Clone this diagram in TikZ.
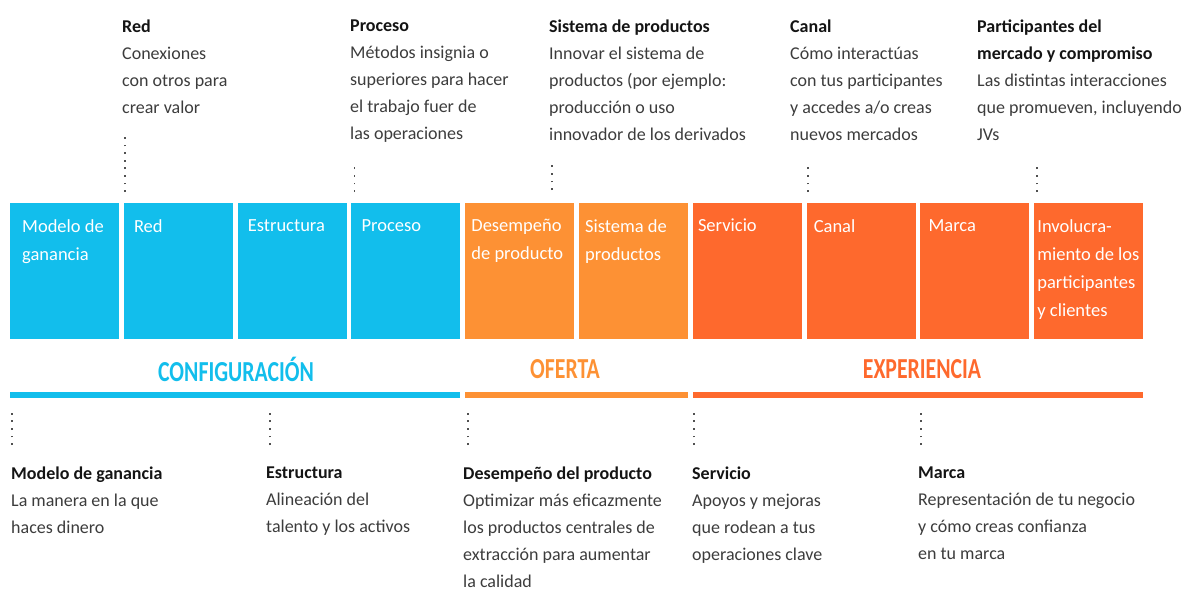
\documentclass[tikz,border=0pt]{standalone}
\usepackage{fontspec}
\setmainfont{Carlito}
\newfontfamily\grpfont[FakeStretch=0.75]{Carlito}
\usetikzlibrary{positioning}

\definecolor{cfgblue}{RGB}{18,190,236}
\definecolor{offorange}{RGB}{253,145,52}
\definecolor{expred}{RGB}{254,105,45}
\definecolor{ink}{RGB}{20,20,20}
\definecolor{bodygray}{RGB}{60,60,60}
\definecolor{dotgray}{RGB}{80,80,80}

\newcommand{\notehead}[1]{{\bfseries\color{ink}#1}}

\tikzset{
  blk/.style={anchor=north west, minimum width=109pt, minimum height=136pt,
    inner sep=0pt, outer sep=0pt},
  boxtxt/.style={anchor=north west, align=left, inner sep=0pt, text=white,
    xshift=10pt, yshift=-16pt, font=\fontsize{18.5}{28}\selectfont},
  note/.style={anchor=north west, align=left, inner sep=0pt, text=bodygray,
    font=\fontsize{18}{27}\selectfont},
  grp/.style={font=\grpfont\bfseries\fontsize{29}{32}\selectfont},
  dots/.style={dotgray, line width=1.8pt, dash pattern=on 1.8pt off 5.8pt}
}

\begin{document}
\begin{tikzpicture}[x=1pt, y=-1pt, node distance=4.8pt]
  \useasboundingbox (0,0) rectangle (1186,592);

  % building blocks
  \node (b1) [blk, fill=cfgblue, label={[boxtxt, xshift=2pt]north west:Modelo de\\ganancia}] at (10,203) {};
  \node (b2) [blk, fill=cfgblue, right=of b1, label={[boxtxt]north west:Red}] {};
  \node (b3) [blk, fill=cfgblue, right=of b2, label={[boxtxt]north west:Estructura}] {};
  \node (b4) [blk, fill=cfgblue, right=of b3, label={[boxtxt]north west:Proceso}] {};
  \node (b5) [blk, fill=offorange, right=of b4, label={[boxtxt, xshift=-4pt]north west:Desempeño\\de producto}] {};
  \node (b6) [blk, fill=offorange, right=of b5, label={[boxtxt, xshift=-4pt]north west:Sistema de\\productos}] {};
  \node (b7) [blk, fill=expred, right=of b6, label={[boxtxt, xshift=-5pt]north west:Servicio}] {};
  \node (b8) [blk, fill=expred, right=of b7, label={[boxtxt, xshift=-3pt]north west:Canal}] {};
  \node (b9) [blk, fill=expred, right=of b8, label={[boxtxt, xshift=-2pt]north west:Marca}] {};
  \node (b10) [blk, fill=expred, right=of b9, label={[boxtxt, xshift=-7pt]north west:Involucra-\\miento de los\\participantes\\y clientes}] {};

  % groups
  \node (lcfg) [grp, text=cfgblue] at (236,369) {CONFIGURACIÓN};
  \node (loff) [grp, text=offorange] at (565,369) {OFERTA};
  \node (lexp) [grp, text=expred] at (922,369) {EXPERIENCIA};
  \fill [cfgblue] ([yshift=-53pt]b1.south west) rectangle ([yshift=-59pt]b4.south east);
  \fill [offorange] ([yshift=-53pt]b5.south west) rectangle ([yshift=-59pt]b6.south east);
  \fill [expred] ([yshift=-53pt]b7.south west) rectangle ([yshift=-59pt]b10.south east);

  % notes above
  \node (nred) [note] at (122,20) {\notehead{Red}\\Conexiones\\con otros para\\crear valor};
  \node (nproc) [note] at (350,20) {\notehead{Proceso}\\Métodos insignia o\\superiores para hacer\\el trabajo fuer de\\las operaciones};
  \node (nsis) [note] at (549,20) {\notehead{Sistema de productos}\\Innovar el sistema de\\productos (por ejemplo:\\producción o uso\\innovador de los derivados};
  \node (ncan) [note] at (790,20) {\notehead{Canal}\\Cómo interactúas\\con tus participantes\\y accedes a/o creas\\nuevos mercados};
  \node (npart) [note] at (977,20) {\notehead{Participantes del}\\\notehead{mercado y compromiso}\\Las distintas interacciones\\que promueven, incluyendo\\JVs};

  \draw [dots] ([shift={(1,-11)}]b2.north west) -- ++(0,-57);
  \draw [dots] ([shift={(3,-11)}]b4.north west) -- ++(0,-30);
  \draw [dots] ([shift={(87,-13)}]b5.north west) -- ++(0,-30);
  \draw [dots] ([shift={(1,-11)}]b8.north west) -- ++(0,-30);
  \draw [dots] ([shift={(3,-11)}]b10.north west) -- ++(0,-30);

  % notes below
  \node (nmod) [note] at (11,467) {\notehead{Modelo de ganancia}\\La manera en la que\\haces dinero};
  \node (nest) [note] at (266,467) {\notehead{Estructura}\\Alineación del\\talento y los activos};
  \node (ndes) [note] at (463,467) {\notehead{Desempeño del producto}\\Optimizar más eficazmente\\los productos centrales de\\extracción para aumentar\\la calidad};
  \node (nser) [note] at (692,467) {\notehead{Servicio}\\Apoyos y mejoras\\que rodean a tus\\operaciones clave};
  \node (nmar) [note] at (918,467) {\notehead{Marca}\\Representación de tu negocio\\y cómo creas confianza\\en tu marca};

  \draw [dots] ([shift={(1,-22)}]nmod.north west) -- ++(0,-35);
  \draw [dots] ([shift={(4,-22)}]nest.north west) -- ++(0,-35);
  \draw [dots] ([shift={(5,-22)}]ndes.north west) -- ++(0,-35);
  \draw [dots] ([shift={(2,-22)}]nser.north west) -- ++(0,-35);
  \draw [dots] ([shift={(3,-22)}]nmar.north west) -- ++(0,-35);
\end{tikzpicture}
\end{document}
